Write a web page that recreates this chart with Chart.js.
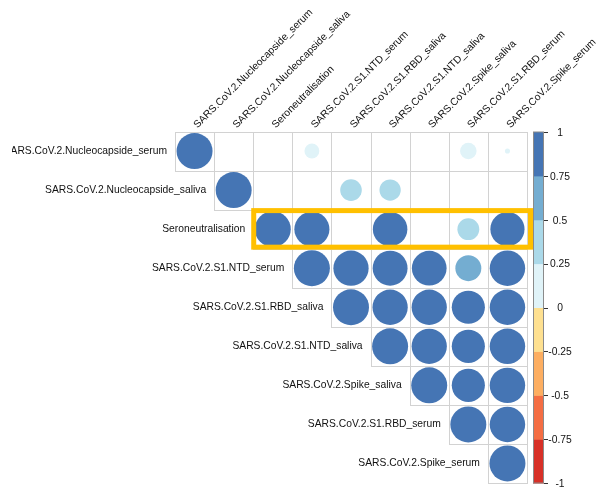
<!DOCTYPE html>
<html>
<head>
<meta charset="utf-8">
<script src="https://cdn.jsdelivr.net/npm/chart.js@4.4.1/dist/chart.umd.min.js"></script>
<style>
  html, body { margin: 0; padding: 0; background: #fff; }
  canvas { display: block; }
</style>
</head>
<body>
<canvas id="corr_chart" width="606" height="490"></canvas>
<script>
// RdYlBu, 8 classes, from -1 (red) to 1 (blue)
const palette = ["#D73027", "#F46D43", "#FDAE61", "#FEE090", "#E0F3F8", "#ABD9E9", "#74ADD1", "#4575B4"];
const colorbarTicks = [1, 0.75, 0.5, 0.25, 0, -0.25, -0.5, -0.75, -1];

const variables = [
    "SARS.CoV.2.Nucleocapside_serum",
    "SARS.CoV.2.Nucleocapside_saliva",
    "Seroneutralisation",
    "SARS.CoV.2.S1.NTD_serum",
    "SARS.CoV.2.S1.RBD_saliva",
    "SARS.CoV.2.S1.NTD_saliva",
    "SARS.CoV.2.Spike_saliva",
    "SARS.CoV.2.S1.RBD_serum",
    "SARS.CoV.2.Spike_serum"
];

// upper triangle only, null = left blank
const nucleocapsideSerum  = [1, null, null, 0.17, null, null, null, 0.21, 0.02];
const nucleocapsideSaliva = [null, 1, null, null, 0.36, 0.35, null, null, null];
const seroneutralisation  = [null, null, 1, 0.95, null, 0.92, null, 0.37, 0.9];
const ntdSerum            = [null, null, null, 1, 0.96, 0.94, 0.93, 0.52, 0.97];
const rbdSaliva           = [null, null, null, null, 1, 0.96, 0.96, 0.85, 0.97];
const ntdSaliva           = [null, null, null, null, null, 1, 0.96, 0.85, 0.97];
const spikeSaliva         = [null, null, null, null, null, null, 1, 0.85, 0.97];
const rbdSerum            = [null, null, null, null, null, null, null, 1, 0.97];
const spikeSerum          = [null, null, null, null, null, null, null, null, 1];

const rows = [nucleocapsideSerum, nucleocapsideSaliva, seroneutralisation, ntdSerum,
    rbdSaliva, ntdSaliva, spikeSaliva, rbdSerum, spikeSerum];

// row that gets the yellow frame
const highlightRow = 2;

const points = [];
rows.forEach((row, i) => {
    row.forEach((v, j) => {
        if (v !== null) points.push({ x: j, y: i, v: v });
    });
});

function colorFor(v) {
    const k = Math.min(palette.length - 1, Math.floor((v + 1) / 0.25));
    return palette[k];
}

// circle area follows |r|, a full circle fills 92% of the cell
function radiusFor(ctx) {
    if (!ctx.raw) return 0;
    const area = ctx.chart.chartArea;
    if (!area) return 0;
    const cell = (area.right - area.left) / variables.length;
    return 0.46 * cell * Math.sqrt(Math.abs(ctx.raw.v));
}

const FONT = "10.3px 'Liberation Sans', Arial, sans-serif";

const corrDecor = {
    id: "corrDecor",
    beforeDatasetsDraw(chart) {
        const { ctx, scales: { x, y } } = chart;
        ctx.save();
        ctx.strokeStyle = "#D2D2D2";
        ctx.lineWidth = 1;
        for (let i = 0; i < variables.length; i++) {
            for (let j = i; j < variables.length; j++) {
                const l = Math.round(x.getPixelForValue(j - 0.5)) + 0.5;
                const r = Math.round(x.getPixelForValue(j + 0.5)) + 0.5;
                const t = Math.round(y.getPixelForValue(i - 0.5)) + 0.5;
                const b = Math.round(y.getPixelForValue(i + 0.5)) + 0.5;
                ctx.strokeRect(l, t, r - l, b - t);
            }
        }
        ctx.restore();
    },
    afterDatasetsDraw(chart) {
        const { ctx, chartArea, scales: { x, y } } = chart;
        ctx.save();
        ctx.fillStyle = "#111";
        ctx.font = FONT;

        // row labels, right aligned next to the diagonal
        ctx.save();
        ctx.beginPath();
        ctx.rect(12, 0, chart.width, chart.height);
        ctx.clip();
        ctx.textAlign = "right";
        ctx.textBaseline = "middle";
        variables.forEach((name, i) => {
            ctx.fillText(name, x.getPixelForValue(i - 0.5) - 8, y.getPixelForValue(i));
        });
        ctx.restore();

        // column labels at 45 degrees
        ctx.textAlign = "left";
        ctx.textBaseline = "alphabetic";
        variables.forEach((name, j) => {
            ctx.save();
            ctx.translate(x.getPixelForValue(j) + 3, chartArea.top - 3);
            ctx.rotate(-Math.PI / 4);
            ctx.fillText(name, 0, 0);
            ctx.restore();
        });

        // frame around one row
        const hl = x.getPixelForValue(highlightRow - 0.5) + 0.5;
        const hr = x.getPixelForValue(variables.length - 0.5) + 3.5;
        const ht = y.getPixelForValue(highlightRow - 0.5) + 1;
        const hb = y.getPixelForValue(highlightRow + 0.5) - 1.5;
        ctx.strokeStyle = "#FFC000";
        ctx.lineWidth = 5;
        ctx.strokeRect(hl, ht, hr - hl, hb - ht);

        // colour legend
        const barL = 533, barR = 544;
        const barT = chartArea.top + 0.5, barB = chartArea.bottom;
        const seg = (barB - barT) / palette.length;
        palette.forEach((c, k) => {
            ctx.fillStyle = c;
            ctx.fillRect(barL, barB - (k + 1) * seg, barR - barL, seg + 0.5);
        });
        ctx.strokeStyle = "#8A8A8A";
        ctx.lineWidth = 1;
        ctx.strokeRect(barL + 0.5, barT, barR - barL - 1, barB - barT);

        ctx.fillStyle = "#111";
        ctx.strokeStyle = "#333";
        ctx.textAlign = "center";
        ctx.textBaseline = "middle";
        colorbarTicks.forEach(t => {
            const ty = barT + (1 - t) / 2 * (barB - barT);
            ctx.beginPath();
            ctx.moveTo(barR, Math.round(ty) + 0.5);
            ctx.lineTo(barR + 4, Math.round(ty) + 0.5);
            ctx.stroke();
            ctx.fillText(String(t), 560, ty + 1);
        });
        ctx.restore();
    }
};

const corrChart = new Chart(document.getElementById("corr_chart"), {
    type: "scatter",
    data: {
        datasets: [{
            data: points,
            clip: false,
            pointBorderWidth: 0,
            pointBackgroundColor: ctx => ctx.raw ? colorFor(ctx.raw.v) : palette[7],
            pointRadius: radiusFor,
            pointHoverRadius: radiusFor
        }]
    },
    options: {
        responsive: false,
        animation: false,
        events: [],
        layout: { padding: { left: 175, top: 131.5, right: 79, bottom: 7 } },
        scales: {
            x: { type: "linear", min: -0.5, max: 8.5, display: false },
            y: { type: "linear", min: -0.5, max: 8.5, reverse: true, display: false }
        },
        plugins: {
            legend: { display: false },
            tooltip: { enabled: false }
        }
    },
    plugins: [corrDecor]
});
</script>
</body>
</html>
